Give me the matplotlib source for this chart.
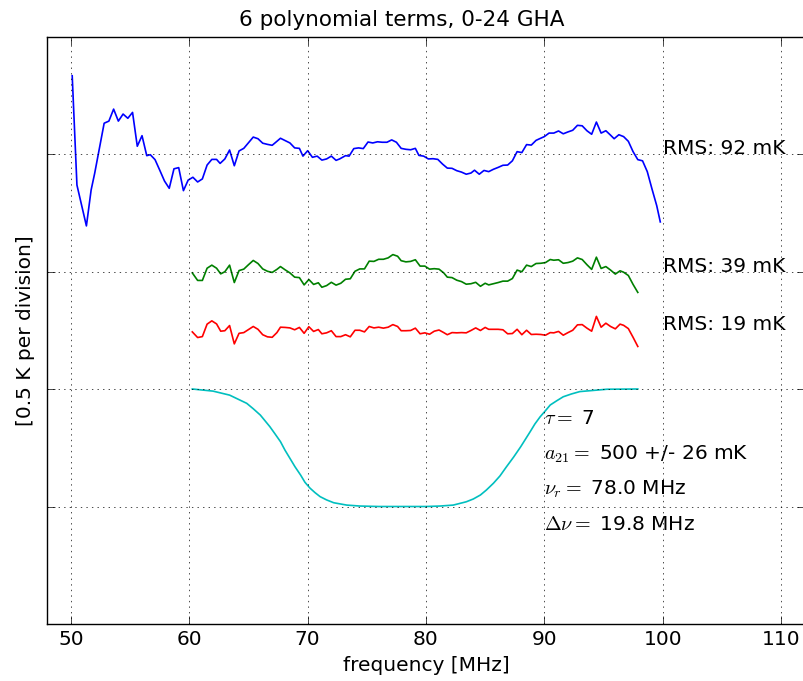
import numpy as np
import matplotlib
matplotlib.use("Agg")
import matplotlib.pyplot as plt

plt.style.use('classic')
plt.rcParams['figure.facecolor'] = 'white'
plt.rcParams['savefig.facecolor'] = 'white'
plt.rcParams['font.size'] = 14.5
plt.rcParams['mathtext.fontset'] = 'cm'

# residuals, in mK

# 6-term fit, full band
freq_full = [50.1, 50.5, 51.3, 51.7, 52.0, 52.8, 53.2, 53.6, 54.0, 54.4,
             54.8, 55.2, 55.6, 56.0, 56.4, 56.7, 57.1, 57.5, 57.9, 58.3,
             58.7, 59.1, 59.5, 59.9, 60.3, 60.7, 61.1, 61.5, 61.9, 62.3,
             62.6, 63.0, 63.4, 63.8, 64.2, 64.6, 65.0, 65.4, 65.8, 66.2,
             66.6, 67.0, 67.4, 67.7, 68.1, 68.5, 68.9, 69.3, 69.6, 70.0,
             70.4, 70.8, 71.2, 71.6, 72.0, 72.4, 72.7, 73.2, 73.5, 73.9,
             74.3, 74.7, 75.1, 75.5, 75.9, 76.3, 76.7, 77.1, 77.5, 77.9,
             78.3, 78.7, 79.1, 79.4, 79.8, 80.2, 80.6, 81.0, 81.4, 81.8,
             82.2, 82.6, 83.0, 83.4, 83.8, 84.1, 84.5, 84.9, 85.3, 85.7,
             86.1, 86.5, 86.9, 87.3, 87.7, 88.1, 88.5, 88.9, 89.3, 89.6,
             90.0, 90.4, 90.8, 91.2, 91.6, 92.0, 92.4, 92.8, 93.2, 93.6,
             94.0, 94.4, 94.8, 95.2, 95.6, 95.9, 96.3, 96.7, 97.1, 97.5,
             97.9, 98.3, 98.7, 99.1, 99.5, 99.8]
res_blue = [333, -132, -306, -153, -82, 131, 140, 191, 140, 170,
            152, 177, 33, 78, -7, -3, -24, -69, -115, -146,
            -63, -58, -156, -111, -99, -119, -106, -47, -23, -23,
            -40, -21, 17, -50, 13, 24, 48, 72, 65, 46,
            41, 37, 54, 67, 57, 47, 26, 24, -9, 14,
            -14, -9, -26, -21, -9, -27, -21, -7, -9, 23,
            26, 23, 51, 47, 52, 50, 50, 60, 50, 24,
            20, 18, 24, -6, -9, -21, -20, -23, -43, -60,
            -61, -71, -77, -86, -81, -69, -86, -70, -75, -65,
            -57, -48, -47, -29, 10, 6, 40, 38, 58, 65,
            74, 89, 89, 98, 86, 94, 101, 122, 120, 99,
            84, 136, 89, 99, 80, 65, 82, 74, 54, 10,
            -24, -29, -75, -149, -220, -289]

# 60-98 MHz sub-band
freq_sub = [60.25, 60.7, 61.1, 61.5, 61.9, 62.3, 62.65, 63.0, 63.4, 63.8,
            64.2, 64.6, 65.0, 65.4, 65.8, 66.2, 66.6, 67.0, 67.4, 67.7,
            68.1, 68.5, 68.9, 69.3, 69.7, 70.1, 70.5, 70.9, 71.2, 71.6,
            72.0, 72.4, 72.8, 73.2, 73.6, 74.0, 74.4, 74.8, 75.2, 75.6,
            76.0, 76.4, 76.8, 77.2, 77.6, 77.9, 78.3, 78.7, 79.1, 79.5,
            79.9, 80.3, 80.7, 81.1, 81.5, 81.8, 82.2, 82.6, 83.0, 83.4,
            83.8, 84.2, 84.6, 85.0, 85.3, 85.7, 86.1, 86.5, 86.9, 87.3,
            87.7, 88.1, 88.5, 88.9, 89.3, 89.7, 90.1, 90.5, 90.8, 91.2,
            91.6, 92.0, 92.4, 92.8, 93.2, 93.6, 94.0, 94.4, 94.8, 95.2,
            95.6, 96.0, 96.4, 96.7, 97.1, 97.5, 97.9]
res_green = [-6, -38, -38, 14, 27, 14, -10, -1, 27, -47,
             4, 10, 29, 47, 34, 11, 1, -4, 9, 21,
             7, -6, -24, -26, -57, -34, -55, -48, -67, -60,
             -46, -58, -50, -33, -31, 1, 11, 11, 44, 43,
             52, 52, 58, 72, 65, 46, 41, 43, 50, 23,
             23, 10, 12, 10, -6, -24, -26, -37, -43, -54,
             -52, -46, -63, -50, -57, -52, -47, -41, -41, -30,
             6, -1, 27, 21, 34, 35, 38, 51, 48, 50,
             35, 38, 44, 58, 51, 29, 9, 61, 13, 21,
             6, -11, 3, -3, -17, -55, -89]
res_red = [-7, -31, -27, 26, 40, 27, -4, -2, 20, -58,
           -13, -10, 3, 16, 4, -19, -28, -30, -10, 13,
           12, 10, 2, 12, -13, 15, -5, 3, -15, -11,
           -2, -27, -27, -19, -28, 0, 0, -7, 16, 10,
           13, 9, 13, 24, 16, -2, -2, -1, 9, -15,
           -11, -17, -4, 1, -10, -19, -10, -11, -10, -11,
           -1, 10, -1, 12, 4, 4, 4, 2, -15, -14,
           4, -19, 0, -18, -17, -18, -21, -10, -11, -5,
           -21, -10, 0, 23, 24, 9, -4, 59, 13, 30,
           16, 6, 26, 21, 7, -30, -69]

# best-fit absorption profile
freq_model = [60.25, 62.0, 63.4, 64.85, 65.4, 66.0, 66.8, 67.24, 67.7, 68.08,
              68.5, 68.93, 69.4, 69.77, 70.2, 70.62, 71.05, 71.6, 72.2, 73.3,
              74.4, 76.0, 78.0, 80.0, 81.2, 82.3, 83.4, 84.0, 84.6, 85.1,
              85.7, 86.25, 86.8, 87.4, 88.0, 88.4, 88.8, 89.2, 89.65, 90.1,
              90.5, 91.05, 91.6, 92.3, 93.0, 95.3, 97.9]
t21 = [0, -9, -26, -61, -84, -111, -160, -191, -224, -260,
       -295, -331, -366, -397, -422, -441, -458, -472, -484, -494,
       -498, -500, -500, -500, -498, -494, -480, -468, -451, -430,
       -401, -370, -331, -290, -246, -214, -182, -149, -118, -92,
       -68, -50, -33, -21, -11, -1, 0]

offsets = [-0.5, -1.0, -1.25, -1.5]
rms_labels = ['RMS: 92 mK', 'RMS: 39 mK', 'RMS: 19 mK']
fit_labels = [r'$\tau = $ 7', r'$a_{21} = $ 500 +/- 26 mK',
              r'$\nu_r = $ 78.0 MHz', r'$\Delta\nu = $ 19.8 MHz']

fig = plt.figure(figsize=(8.04, 6.81), dpi=100)
ax = fig.add_axes([0.0589, 0.0837, 0.9419, 0.8627])

ax.plot(freq_full, offsets[0] + np.array(res_blue) / 1000., 'b', lw=1.2)
ax.plot(freq_sub, offsets[1] + np.array(res_green) / 1000., 'g', lw=1.2)
ax.plot(freq_sub, offsets[2] + np.array(res_red) / 1000., 'r', lw=1.2)
ax.plot(freq_model, offsets[3] + np.array(t21) / 1000., 'c', lw=1.2)

for off, lab in zip(offsets[:3], rms_labels):
    ax.text(100, off, lab)

for i, lab in enumerate(fit_labels):
    ax.text(90, -1.65 - 0.15 * i, lab)

ax.set_xlim(48, 112)
ax.set_ylim(-2.5, 0)
ax.set_xticks(np.arange(50, 111, 10))
ax.set_yticks([-2, -1.5, -1, -0.5])
ax.set_yticklabels([])
ax.tick_params(length=6)
ax.grid(True)

ax.set_xlabel('frequency [MHz]')
ax.set_ylabel('[0.5 K per division]')
fig.suptitle('6 polynomial terms, 0-24 GHA', fontsize=15.5, y=0.986)

plt.savefig('out.png', dpi=100)
